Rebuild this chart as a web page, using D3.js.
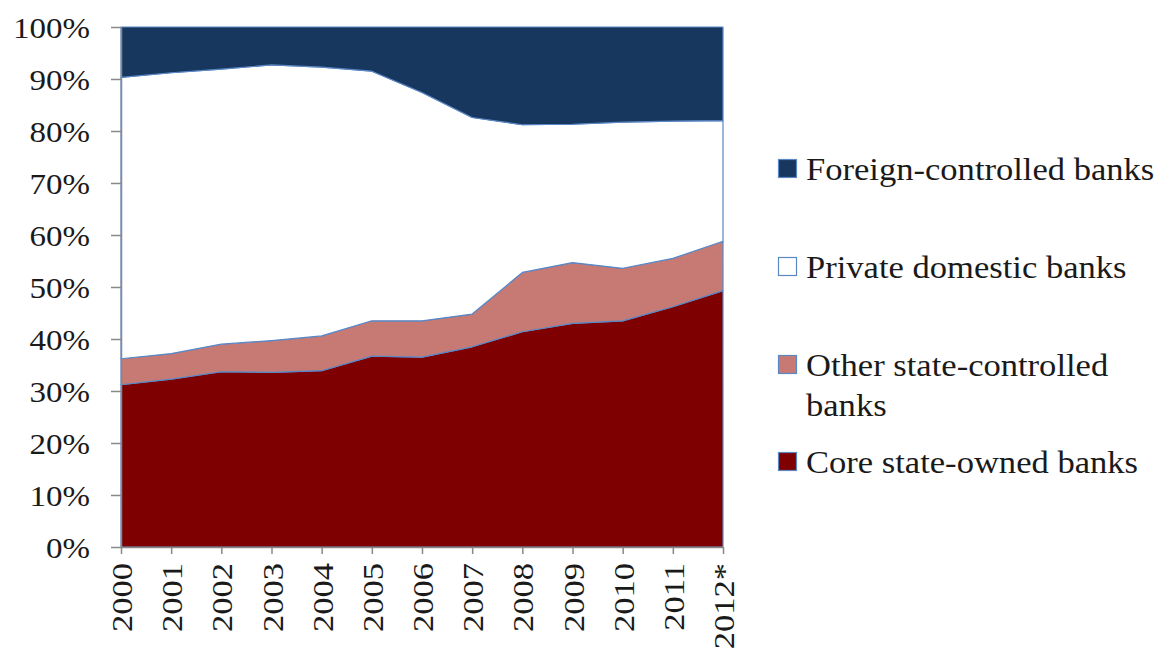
<!DOCTYPE html>
<html>
<head>
<meta charset="utf-8">
<script src="https://cdn.jsdelivr.net/npm/d3@7"></script>
</head>
<body style="margin:0;background:#fff">
<svg id="chart" width="1159" height="654" style="display:block" font-family="'Liberation Serif', 'Times New Roman', serif"></svg>
<script>
// ---- Data (shares, %) ----
const years = ["2000","2001","2002","2003","2004","2005","2006","2007","2008","2009","2010","2011","2012*"];
const coreStateOwned   = [31.2, 32.3, 33.7, 33.6, 33.9, 36.7, 36.5, 38.5, 41.4, 43.0, 43.5, 46.2, 49.3];
const otherStateCtrl   = [ 5.0,  4.9,  5.3,  6.1,  6.7,  6.8,  7.0,  6.3, 11.4, 11.7, 10.1,  9.3,  9.5];
const privateDomestic  = [54.1, 54.0, 52.9, 53.0, 51.7, 48.0, 43.9, 37.8, 28.4, 26.6, 28.1, 26.4, 23.2];
const foreignCtrl      = [ 9.7,  8.8,  8.1,  7.3,  7.7,  8.5, 12.6, 17.4, 18.8, 18.7, 18.3, 18.1, 18.0];
const yTicks = [0, 10, 20, 30, 40, 50, 60, 70, 80, 90, 100];

const seriesKeys = ["core", "other", "private", "foreign"];
const seriesNames = {
  foreign: ["Foreign-controlled banks"],
  private: ["Private domestic banks"],
  other: ["Other state-controlled", "banks"],
  core: ["Core state-owned banks"]
};
const colors = { core: "#7F0000", other: "#C67A73", private: "#FFFFFF", foreign: "#17375E" };

const table = years.map((yr, i) => ({
  year: yr, i: i,
  core: coreStateOwned[i], other: otherStateCtrl[i],
  private: privateDomestic[i], foreign: foreignCtrl[i]
}));

const FONT = '"Liberation Serif", "Times New Roman", serif';
const TXT = "#1a1a1a";
const svg = d3.select("#chart");
const plotLeft = 121, plotRight = 723, plotTop = 27, plotBottom = 547;

const x = d3.scaleLinear().domain([0, years.length - 1]).range([plotLeft, plotRight]);
const y = d3.scaleLinear().domain([0, 100]).range([plotBottom, plotTop]);

const stacked = d3.stack().keys(seriesKeys)(table);

const area = d3.area()
  .x(d => x(d.data.i))
  .y0(d => y(d[0]))
  .y1(d => y(d[1]));

svg.append("g").selectAll("path")
  .data(stacked)
  .join("path")
  .attr("d", area)
  .attr("fill", d => colors[d.key])
  .attr("stroke", "#5B87C5")
  .attr("stroke-width", 1.2)
  .attr("stroke-linejoin", "round");

// Y axis
const yAxis = svg.append("g")
  .attr("transform", `translate(${plotLeft},0)`)
  .call(d3.axisLeft(y).tickValues(yTicks).tickFormat(d => d + "%").tickSize(10).tickPadding(21).tickSizeOuter(0));
yAxis.attr("font-family", FONT).attr("font-size", null);
yAxis.select(".domain").attr("stroke", "#888").attr("stroke-width", 1.5);
yAxis.selectAll(".tick line").attr("stroke", "#888").attr("stroke-width", 1.5);
yAxis.selectAll(".tick text")
  .style("font-family", FONT).style("font-size", "29.5px").style("fill", TXT)
  .attr("x", 0).attr("dy", "0.34em")
  .attr("transform", "translate(-31,0) scale(1.12,1)");

// X axis
const xAxis = svg.append("g")
  .attr("transform", `translate(0,${plotBottom})`)
  .call(d3.axisBottom(x).tickValues(d3.range(years.length)).tickFormat(i => years[i]).tickSize(7).tickSizeOuter(0));
xAxis.attr("font-family", FONT).attr("font-size", null);
xAxis.select(".domain").attr("stroke", "#888").attr("stroke-width", 1.5);
xAxis.selectAll(".tick line").attr("stroke", "#888").attr("stroke-width", 1.5);
xAxis.selectAll(".tick text")
  .style("font-family", FONT).style("font-size", "30px").style("fill", TXT)
  .attr("transform", "rotate(-90) translate(-16,0) scale(1.15,1)")
  .attr("text-anchor", "end")
  .attr("x", 0).attr("y", 0).attr("dy", "0.35em");

// Legend (top to bottom)
const legendRows = [
  { key: "foreign", sqY: 159, base: 180 },
  { key: "private", sqY: 257, base: 278 },
  { key: "other",   sqY: 355, base: 376 },
  { key: "core",    sqY: 452, base: 473 }
];
const lg = svg.append("g").attr("font-family", FONT);
legendRows.forEach(r => {
  lg.append("rect")
    .attr("x", 778.5).attr("y", r.sqY + 0.5).attr("width", 18).attr("height", 18)
    .attr("fill", colors[r.key]).attr("stroke", "#5B87C5").attr("stroke-width", 1.2);
  const t = lg.append("text")
    .attr("transform", `translate(806,${r.base}) scale(1.08,1)`)
    .style("font-family", FONT).style("font-size", "32px").style("fill", TXT);
  seriesNames[r.key].forEach((line, k) => {
    t.append("tspan").attr("x", 0).attr("y", k * 40).text(line);
  });
});
</script>
</body>
</html>
